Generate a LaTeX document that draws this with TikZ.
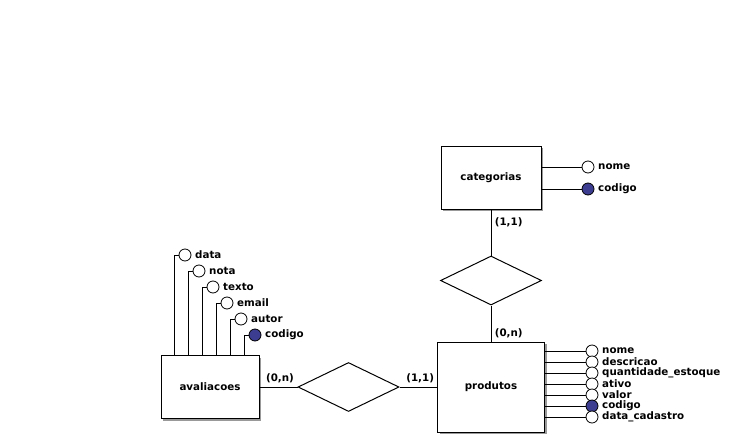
\documentclass[tikz,border=0pt]{standalone}
\usepackage{fontspec}
\setmainfont{DejaVu Sans}
\usetikzlibrary{shapes.geometric}
\usetikzlibrary{shadows}
\usetikzlibrary{positioning}
\definecolor{keyblue}{RGB}{60,60,144}
\tikzstyle{entity} = [draw, fill=white, general shadow={fill=gray!80, shadow xshift=2pt, shadow yshift=-2pt}]
\tikzstyle{line} = [draw]

\begin{document}
\begin{tikzpicture}[x=1pt, y=-1pt, line width=1pt,
        font=\bfseries\fontsize{10.3}{11}\selectfont,
        attr/.style={circle, draw, fill=white, minimum size=12pt, inner sep=0pt, line width=0.8pt},
        key/.style={attr, fill=keyblue},
        rel/.style={draw, diamond, minimum width=101pt, minimum height=49pt, inner sep=0pt}]
        \useasboundingbox (0,0) rectangle (730,439);
        %% Entities
        \node [entity, minimum width=100pt, minimum height=63pt] at (491,177.5) (categorias) {categorias};
        \node [entity, minimum width=107pt, minimum height=90pt] at (491,387) (produtos) {produtos};
        \node [entity, minimum width=98pt, minimum height=63pt] at (210,387) (avaliacoes) {avaliacoes};
        %% Relationships
        \node [rel] at (491,280.5) (catprod) {};
        \node [rel] at (348.5,387) (avalprod) {};
        %% Arcs
        \path [line] (categorias) to node [pos=0.28, right] {(1,1)} (catprod);
        \path [line] (catprod) to node [pos=0.78, right] {(0,n)} (produtos);
        \path [line] (avaliacoes) to node [pos=0.54, above] {(0,n)} (avalprod);
        \path [line] (avalprod) to node [pos=0.55, above] {(1,1)} (produtos);
        %% Attributes
        \node [attr, label=right:nome] at (588,167) (cat-nome) {};
        \node [key, label=right:codigo] at (588,189) (cat-codigo) {};
        \draw (categorias.east |- cat-nome) -- (cat-nome.west);
        \draw (categorias.east |- cat-codigo) -- (cat-codigo.west);
        \foreach \a/\t/\s [count=\i from 0] in {nome/nome/attr, descricao/descricao/attr,
            qtd/quantidade\_estoque/attr, ativo/ativo/attr, valor/valor/attr,
            codigo/codigo/key, data/data\_cadastro/attr}
        {
            \draw (produtos.east |- {0,351+11*\i}) -- (586,{351+11*\i});
            \node [\s, label=right:\t] at (592,{351+11*\i}) (pr-\a) {};
        }
        \foreach \a/\s [count=\i from 0] in {data/attr, nota/attr, texto/attr,
            email/attr, autor/attr, codigo/key}
        {
            \node [\s, label=right:\a] at ({185+14*\i},{255+16*\i}) (av-\a) {};
            \draw (av-\a.west) -| ({174+14*\i},0 |- avaliacoes.north);
        }
    \end{tikzpicture}
\end{document}
